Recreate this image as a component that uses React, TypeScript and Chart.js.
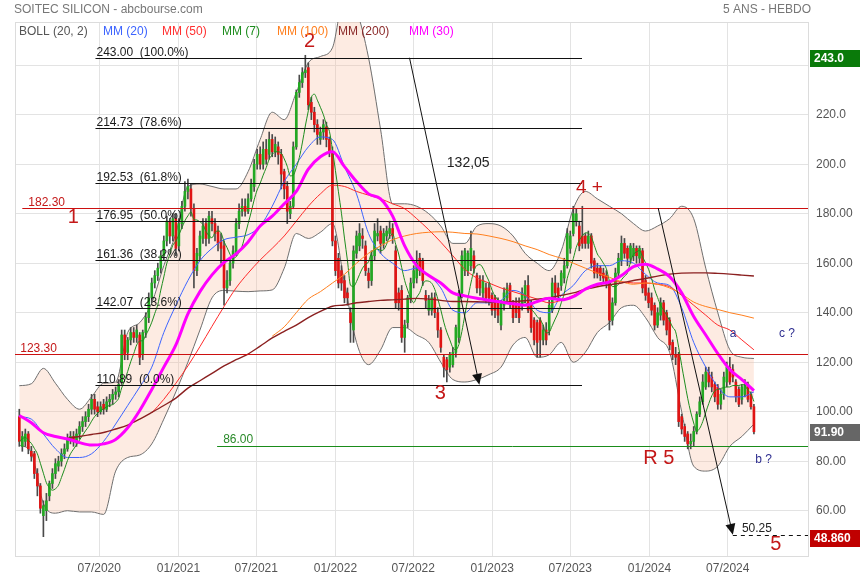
import React, { useEffect, useRef } from "react";
import { Chart, registerables } from "chart.js";

Chart.register(...registerables);

const FONT = "'Liberation Sans', Arial, Helvetica, sans-serif";

// x axis: week index (0 = first weekly candle)
const xTickWeeks = [26.56, 52.85, 78.7, 105.0, 130.85, 157.1, 183.0, 209.3, 235.3];
const xTickLabels = ["07/2020", "01/2021", "07/2021", "01/2022", "07/2022", "01/2023", "07/2023", "01/2024", "07/2024"];
const yTickValues = [60, 80, 100, 120, 140, 160, 180, 200, 220, 240];

const opens = [
  98, 86, 88, 91, 84, 83, 75, 70, 58, 60,
  66, 71, 75, 78, 80, 83, 85, 89, 90, 88,
  91, 94, 96, 98, 101, 105, 102, 100, 103, 101,
  104, 105, 107, 108, 112, 131, 124, 129, 132, 130,
  131, 123, 132, 138, 146, 152, 155, 158, 163, 169,
  177, 171, 178, 167, 176, 183, 189, 190, 182, 157,
  163, 170, 176, 170, 178, 176, 173, 169, 167, 150,
  153, 160, 164, 176, 181, 183, 181, 186, 191, 200,
  204, 200, 206, 204, 210, 205, 207, 204, 197, 191,
  180, 183, 207, 229, 233, 237, 239, 225, 221, 216,
  210, 213, 215, 210, 205, 169, 162, 157, 153, 148,
  140, 133, 164, 167, 171, 167, 156, 153, 163, 171,
  173, 168, 171, 172, 174, 165, 148, 149, 130, 136,
  146, 152, 154, 162, 161, 147, 141, 141, 146, 140,
  133, 122, 121, 118, 119, 124, 130, 148, 157, 157,
  159, 163, 155, 153, 148, 150, 150, 147, 146, 144,
  135, 143, 146, 151, 144, 144, 144, 143, 146, 151,
  144, 137, 136, 137, 129, 133, 133, 141, 152, 150,
  151, 154, 159, 166, 172, 177, 175, 171, 171, 168,
  171, 161, 158, 158, 156, 155, 152, 137, 144, 156,
  161, 168, 166, 162, 163, 166, 162, 165, 153, 148,
  146, 143, 135, 139, 144, 140, 137, 128, 123, 123,
  98, 94, 91, 87, 88, 92, 99, 104, 110, 116,
  114, 111, 110, 103, 107, 112, 118, 117, 112, 109,
  105, 107, 111, 107, 102,
];
const highs = [
  101, 92, 93, 92, 86, 84, 77, 71, 64, 67,
  72, 77, 81, 82, 85, 87, 91, 92, 92, 93,
  96, 98, 100, 103, 107, 107, 104, 104, 105, 106,
  107, 109, 110, 113, 133, 133, 130, 134, 134, 135,
  132, 133, 140, 148, 154, 157, 160, 165, 171, 179,
  178, 180, 180, 178, 185, 193, 194, 192, 184, 166,
  173, 178, 178, 181, 181, 178, 175, 172, 169, 157,
  162, 167, 178, 184, 186, 186, 188, 194, 202, 206,
  207, 209, 210, 213, 212, 211, 209, 206, 198, 193,
  185, 209, 230, 236, 239, 244, 241, 227, 223, 218,
  215, 218, 217, 211, 207, 171, 164, 159, 155, 150,
  142, 167, 173, 176, 174, 169, 158, 165, 176, 178,
  175, 174, 175, 177, 176, 167, 150, 151, 137, 147,
  154, 159, 165, 164, 162, 149, 147, 148, 148, 142,
  134, 123, 122, 124, 126, 135, 149, 165, 166, 165,
  173, 165, 156, 155, 155, 152, 152, 148, 147, 146,
  145, 150, 152, 152, 145, 146, 146, 150, 153, 155,
  145, 138, 137, 138, 135, 136, 145, 154, 155, 152,
  157, 162, 174, 173, 183, 182, 177, 183, 172, 173,
  172, 162, 160, 159, 158, 157, 153, 146, 158, 164,
  171, 170, 167, 168, 168, 167, 167, 166, 155, 150,
  148, 144, 142, 146, 145, 141, 138, 129, 126, 124,
  99, 95, 92, 91, 94, 100, 106, 115, 118, 118,
  116, 112, 111, 109, 116, 120, 122, 119, 113, 110,
  111, 113, 112, 108, 103,
];
const lows = [
  86, 84, 86, 83, 80, 73, 66, 59, 49.5, 56,
  64, 69, 73, 76, 78, 81, 84, 87, 86, 86,
  89, 92, 94, 96, 99, 99, 98, 99, 99, 100,
  102, 103, 105, 106, 111, 121, 121, 127, 128, 128,
  119, 121, 130, 136, 144, 150, 153, 156, 161, 167,
  168, 169, 163, 165, 174, 181, 186, 179, 150, 155,
  161, 168, 167, 168, 173, 169, 165, 160, 143, 148,
  151, 158, 163, 174, 179, 179, 180, 185, 189, 198,
  198, 198, 200, 202, 203, 203, 200, 190, 186, 176,
  178, 182, 206, 227, 231, 235, 222, 218, 213, 208,
  208, 210, 207, 203, 167, 155, 150, 149, 144, 143,
  128, 128, 162, 165, 166, 155, 150, 151, 161, 169,
  164, 166, 169, 170, 168, 142, 141, 128, 124, 134,
  144, 150, 152, 155, 151, 142, 139, 139, 138, 130,
  124, 114, 112, 116, 118, 122, 128, 146, 155, 155,
  157, 156, 148, 147, 146, 144, 143, 139, 138, 136,
  133, 141, 144, 142, 136, 138, 136, 141, 144, 140,
  132, 127, 122, 122, 127, 127, 131, 140, 146, 145,
  149, 152, 158, 164, 171, 175, 165, 166, 166, 166,
  158, 154, 154, 153, 152, 150, 133, 135, 143, 154,
  159, 162, 159, 160, 161, 160, 160, 148, 145, 142,
  139, 133, 134, 137, 135, 131, 125, 121, 119, 94,
  91, 88, 85, 85, 86, 91, 98, 103, 109, 110,
  108, 104, 101, 101, 105, 110, 111, 112, 104, 102,
  103, 106, 104, 101, 91,
];
const closes = [
  88, 90, 91, 85, 82, 75, 70, 61, 62, 64,
  71, 75, 79, 80, 83, 85, 89, 90, 88, 91,
  94, 96, 98, 101, 105, 101, 100, 102, 101, 104,
  105, 107, 108, 111, 131, 123, 129, 132, 130, 133,
  122, 132, 138, 146, 152, 155, 158, 163, 169, 177,
  171, 178, 166, 176, 183, 189, 191, 182, 157, 164,
  171, 175, 170, 179, 176, 172, 168, 166, 150, 153,
  160, 165, 176, 181, 183, 181, 186, 192, 200, 204,
  200, 206, 202, 210, 205, 208, 204, 196, 190, 181,
  183, 207, 229, 233, 237, 238, 224, 221, 216, 212,
  213, 216, 210, 205, 169, 157, 152, 152, 146, 146,
  136, 165, 171, 172, 170, 157, 153, 163, 173, 172,
  168, 172, 173, 174, 171, 144, 144, 130, 135, 146,
  152, 157, 160, 157, 153, 145, 145, 146, 140, 133,
  126, 118, 117, 123, 124, 134, 148, 163, 165, 164,
  166, 158, 150, 150, 153, 146, 146, 141, 141, 139,
  144, 148, 150, 144, 138, 140, 138, 148, 151, 141,
  134, 129, 128, 129, 133, 129, 143, 152, 148, 147,
  156, 159, 172, 171, 180, 180, 167, 168, 168, 171,
  160, 156, 156, 155, 154, 152, 137, 144, 156, 162,
  168, 164, 162, 167, 166, 163, 166, 150, 147, 144,
  141, 135, 140, 144, 137, 133, 127, 123, 122, 96,
  93, 90, 87, 88, 92, 99, 104, 112, 116, 112,
  110, 106, 103, 107, 114, 118, 112, 114, 106, 103,
  110, 111, 105, 102, 91.9,
];

// indicator curves read every 4 weeks (week 0, 4, 8, ... 244)
const indicatorWeeks = Array.from({ length: 62 }, (_, k) => k * 4);
const bollUpper = [
  110.5, 111.3, 117.5, 111.5, 105, 101, 106, 111.5, 112, 132,
  136, 144, 159, 172, 191, 192, 191, 190, 190, 197,
  210, 221, 218, 229, 241, 243.5, 247, 268, 262, 243,
  214, 184, 184, 183, 180, 175, 168, 168, 175, 176,
  175, 171, 164, 160, 157, 165, 182, 189, 186, 183,
  180, 176, 173, 175, 178, 183, 178, 158, 140, 125,
  122, 121.5,
];
const bollLower = [
  86.5, 83.5, 63, 59, 60, 59.5, 59.5, 58.5, 76, 81.5,
  82.5, 87, 97, 108, 120, 133, 146, 149, 148.7, 148.5,
  148.8, 149.2, 158, 172, 170, 172.5, 176, 152, 128, 119,
  125, 134, 134, 131, 128, 120, 113, 112, 113, 115,
  118, 127, 130, 122, 123, 128, 120, 124, 132, 136,
  142, 143, 138, 130, 124, 100, 78, 76, 78, 86,
  90, 95,
];
const ma20 = [
  98, 97, 91, 85, 81.5, 81.5, 83, 88, 95, 102.5,
  110, 118, 132, 143, 153, 161, 166, 169.5, 170.5, 171.5,
  175, 183, 193, 200, 207, 211, 210, 199, 188, 172,
  164, 160, 157, 158, 155, 150, 141, 140, 144, 144,
  145, 149, 147, 141, 140, 147, 151, 157, 159, 159,
  161, 160, 155.5, 152, 151, 142, 128, 118, 110, 106,
  106, 108,
];
const ma30 = [
  98.5, 95.5, 91.5, 90, 89, 87.5, 86.5, 87, 88.8, 93.5,
  100.5, 109, 118, 127, 139.5, 148.5, 155.3, 160.3, 163.8, 168.6,
  175, 179, 184, 189, 198, 203, 205, 199, 193, 188,
  186, 179, 167, 159, 155, 152, 148, 146.8, 145.8, 145,
  144.3, 143.6, 143, 144.5, 145.8, 145.2, 146.5, 149.5, 151.5, 152.4,
  155, 158.6, 159.6, 157.7, 154.6, 148, 138.5, 131, 123.5, 117,
  113, 108.5,
];
const ma50 = [
  null, null, null, null, null, null, null, null, null, null,
  null, 99.5, 105, 111.5, 118.5, 126.3, 134.5, 142.5, 150, 156,
  161.3, 166, 171, 177, 183, 188, 191.5, 191, 189, 187.5,
  186, 184, 182, 178, 173.5, 168.5, 163, 157.5, 154, 152,
  150, 148.5, 147, 145.5, 144, 145, 147, 149.5, 151, 152.5,
  152.5, 152, 152, 151.5, 150.5, 147, 143, 139, 135, 133,
  129, 125,
];
const ma100 = [
  null, null, null, null, null, null, null, null, null, null,
  null, null, null, null, null, null, null, null, null, null,
  null, 130.5, 134.3, 140, 145.5, 148.5, 152, 155.5, 160, 164,
  167, 169.5, 171, 172, 172.5, 172.7, 172.5, 172, 171.8, 171,
  170, 168.7, 167, 165.5, 163.5, 162, 160, 158, 156, 154.3,
  152.5, 151.5, 152, 151.5, 150, 147.5, 144.3, 142.5, 141.3, 140,
  139, 137.8,
];
const ma200 = [
  null, null, null, null, 89.3, 90, 90.8, 91.6, 93, 94.6,
  97, 99.7, 102.5, 105.5, 109.5, 112.5, 115.5, 118.5, 121, 123.3,
  126.5, 129.8, 132.5, 135, 138, 140.5, 142.6, 143.1, 144, 144.5,
  145, 145.2, 145.5, 145.8, 145.5, 145, 144.5, 144.5, 144.4, 144.3,
  144.3, 144.5, 144.8, 145.5, 146, 147, 148, 149.5, 150.5, 151.3,
  152, 153, 153.8, 154.8, 155.6, 156, 156.1, 156.1, 155.9, 155.6,
  155.2, 154.8,
];

const fibLevels = [243.0, 214.73, 192.53, 176.95, 161.36, 142.07, 110.89];
const fibLabels = [
  "243.00  (100.0%)", "214.73  (78.6%)", "192.53  (61.8%)", "176.95  (50.0%)",
  "161.36  (38.2%)", "142.07  (23.6%)", "110.89  (0.0%)",
];
const fibStartWeek = 25.3;
const fibEndWeek = 186.9;

const GREEN = "#23a823";
const RED = "#e01414";
const DARKRED_TXT = "#c41818";
const NAVY = "#2e2e90";

const weeks = closes.map((_, i) => i);
const ma7 = weeks.map((i) => {
  const from = Math.max(0, i - 6);
  let s = 0;
  for (let k = from; k <= i; k++) s += closes[k];
  return s / (i - from + 1);
});

const legendItems = [
  { text: "BOLL (20, 2)", x: 19, color: "#555555" },
  { text: "MM (20)", x: 103, color: "#3c64ff" },
  { text: "MM (50)", x: 162, color: "#ff3030" },
  { text: "MM (7)", x: 222, color: "#1e8c1e" },
  { text: "MM (100)", x: 277, color: "#ff7f1e" },
  { text: "MM (200)", x: 338, color: "#8b2a2a" },
  { text: "MM (30)", x: 409, color: "#ff00ff" },
];

function lineDs(label: string, arr: (number | null)[], color: string, width: number, order: number, extra: any = {}) {
  return {
    type: "line",
    label,
    data: indicatorWeeks.map((w, k) => ({ x: w, y: arr[k] })),
    borderColor: color,
    borderWidth: width,
    pointRadius: 0,
    cubicInterpolationMode: "monotone",
    fill: false,
    spanGaps: false,
    order,
    ...extra,
  };
}

const overlayPlugin = {
  id: "overlay",
  beforeDatasetsDraw(chart: any) {
    const { ctx, chartArea } = chart;
    ctx.save();
    ctx.strokeStyle = "#dcdcdc";
    ctx.lineWidth = 1;
    ctx.strokeRect(Math.round(chartArea.left) + 0.5, Math.round(chartArea.top) + 0.5,
      Math.round(chartArea.right - chartArea.left), Math.round(chartArea.bottom - chartArea.top));
    ctx.restore();
  },
  afterDatasetsDraw(chart: any) {
    const { ctx, chartArea } = chart;
    const X = (v: number) => chart.scales.x.getPixelForValue(v);
    const Y = (v: number) => chart.scales.y.getPixelForValue(v);
    const hline = (y: number, x1: number, x2: number, color: string, dash: number[] = []) => {
      ctx.save();
      ctx.strokeStyle = color;
      ctx.lineWidth = 1;
      ctx.setLineDash(dash);
      const yy = Math.round(y) + 0.5;
      ctx.beginPath();
      ctx.moveTo(x1, yy);
      ctx.lineTo(x2, yy);
      ctx.stroke();
      ctx.restore();
    };
    const text = (t: string, x: number, y: number, color: string, size: number, align = "left", baseline = "alphabetic") => {
      ctx.save();
      ctx.fillStyle = color;
      ctx.font = `${size}px ${FONT}`;
      ctx.textAlign = align;
      ctx.textBaseline = baseline;
      ctx.fillText(t, x, y);
      ctx.restore();
    };
    const arrow = (w1: number, v1: number, w2: number, v2: number) => {
      const x1 = X(w1), y1 = Y(v1), x2 = X(w2), y2 = Y(v2);
      const ang = Math.atan2(y2 - y1, x2 - x1);
      const len = 11, half = 5;
      ctx.save();
      ctx.strokeStyle = "#111";
      ctx.fillStyle = "#111";
      ctx.lineWidth = 1;
      ctx.beginPath();
      ctx.moveTo(x1, y1);
      ctx.lineTo(x2 - Math.cos(ang) * len * 0.8, y2 - Math.sin(ang) * len * 0.8);
      ctx.stroke();
      ctx.beginPath();
      ctx.moveTo(x2, y2);
      ctx.lineTo(x2 - Math.cos(ang) * len - Math.sin(ang) * half, y2 - Math.sin(ang) * len + Math.cos(ang) * half);
      ctx.lineTo(x2 - Math.cos(ang) * len + Math.sin(ang) * half, y2 - Math.sin(ang) * len - Math.cos(ang) * half);
      ctx.closePath();
      ctx.fill();
      ctx.restore();
    };

    // Fibonacci retracement levels
    fibLevels.forEach((lv, k) => {
      const y = Y(lv);
      hline(y, X(fibStartWeek), X(fibEndWeek), "#111");
      text(fibLabels[k], X(fibStartWeek) + 1, Math.round(y) - 2, "#1a1a1a", 12);
    });

    // horizontal support / resistance lines
    hline(Y(182.3), X(1.0), chartArea.right, "#cc1010");
    text("182.30", X(3.0), Math.round(Y(182.3)) - 2, DARKRED_TXT, 12);
    text("1", X(17.9), Y(178.6), DARKRED_TXT, 20, "center", "middle");
    hline(Y(123.3), chartArea.left, chartArea.right, "#cc1010");
    text("123.30", X(0.3), Math.round(Y(123.3)) - 2, DARKRED_TXT, 12);
    hline(Y(86), X(65.7), chartArea.right, "#1a8c1a");
    text("86.00", X(67.7), Math.round(Y(86)) - 3, "#2a8a2a", 12);

    // projection arrows
    arrow(129.6, 243.0, 152.8, 110.89);
    text("132,05", X(142.0), Y(200.4), "#222", 14, "left", "middle");
    arrow(212.2, 182.3, 237.0, 50.25);
    hline(Y(50.25), X(237.0), chartArea.right, "#111", [4, 4]);
    text("50.25", X(240.0), Y(51.2), "#222", 12);

    // wave labels
    text("2", X(96.4), Y(249.6), DARKRED_TXT, 20, "center", "middle");
    text("3", X(139.8), Y(107.2), DARKRED_TXT, 20, "center", "middle");
    text("4 +", X(184.9), Y(190.4), DARKRED_TXT, 19, "left", "middle");
    text("R 5", X(207.2), Y(80.9), DARKRED_TXT, 20, "left", "middle");
    text("5", X(251.3), Y(46.5), DARKRED_TXT, 20, "center", "middle");
    text("a", X(237.1), Y(131.4), NAVY, 12, "center", "middle");
    text("c ?", X(252.3), Y(131.4), NAVY, 12, "left", "middle");
    text("b ?", X(244.4), Y(80.5), NAVY, 12, "left", "middle");
  },
  afterDraw(chart: any) {
    const { ctx, chartArea } = chart;
    const Y = (v: number) => chart.scales.y.getPixelForValue(v);
    ctx.save();
    // header
    ctx.font = `12px ${FONT}`;
    ctx.fillStyle = "#777";
    ctx.textBaseline = "alphabetic";
    ctx.textAlign = "left";
    ctx.fillText("SOITEC SILICON - abcbourse.com", 14, 13);
    ctx.textAlign = "right";
    ctx.fillText("5 ANS - HEBDO", 811, 13);
    // legend
    ctx.textAlign = "left";
    legendItems.forEach((it) => {
      ctx.fillStyle = it.color;
      ctx.fillText(it.text, it.x, 35);
    });
    // value boxes on the price axis
    const boxes = [
      { v: 243.0, t: "243.0", bg: "#0a7a0a" },
      { v: 91.9, t: "91.90", bg: "#666666" },
      { v: 48.86, t: "48.860", bg: "#c00000" },
    ];
    boxes.forEach((b) => {
      const y = Math.round(Y(b.v));
      ctx.fillStyle = b.bg;
      ctx.fillRect(chartArea.right + 2, y - 8, 860 - chartArea.right - 2, 17);
      ctx.fillStyle = "#fff";
      ctx.font = `bold 12px ${FONT}`;
      ctx.textBaseline = "middle";
      ctx.fillText(b.t, chartArea.right + 6, y + 1);
    });
    ctx.restore();
  },
};

export default function App() {
  const ref = useRef<HTMLCanvasElement>(null);
  useEffect(() => {
    const datasets: any[] = [
      lineDs("BOLL up", bollUpper, "#6e6e6e", 1, 20, { fill: "+1", backgroundColor: "rgba(248,190,160,0.30)" }),
      lineDs("BOLL low", bollLower, "#6e6e6e", 1, 19),
      {
        type: "bar",
        label: "wicks",
        data: weeks.map((i) => ({ x: i, y: [lows[i], highs[i]] })),
        backgroundColor: "#4a4a4a",
        barThickness: 1,
        grouped: false,
        order: 15,
      },
      {
        type: "bar",
        label: "bodies",
        data: weeks.map((i) => ({ x: i, y: [opens[i], closes[i]] })),
        backgroundColor: weeks.map((i) => (closes[i] >= opens[i] ? GREEN : RED)),
        barThickness: 2,
        minBarLength: 1,
        grouped: false,
        order: 14,
      },
      lineDs("MM (20)", ma20, "#3c64ff", 1, 7),
      lineDs("MM (50)", ma50, "#ff2a2a", 1, 6),
      {
        type: "line",
        label: "MM (7)",
        data: weeks.map((i) => ({ x: i, y: ma7[i] })),
        borderColor: "#1e8c1e",
        borderWidth: 1,
        pointRadius: 0,
        cubicInterpolationMode: "monotone",
        fill: false,
        order: 5,
      },
      lineDs("MM (100)", ma100, "#ff7f1e", 1, 4),
      lineDs("MM (200)", ma200, "#8b2020", 1.4, 3),
      lineDs("MM (30)", ma30, "#ff00ff", 3, 2),
    ];

    const chart = new Chart(ref.current as HTMLCanvasElement, {
      type: "bar",
      data: { datasets },
      options: {
        responsive: false,
        animation: false,
        devicePixelRatio: 1,
        events: [],
        layout: { padding: { left: 15, top: 22, right: 0, bottom: 0 } },
        plugins: {
          legend: { display: false },
          tooltip: { enabled: false },
          title: { display: false },
        },
        scales: {
          x: {
            type: "linear",
            min: -1.43,
            max: 261.96,
            offset: false,
            grid: { color: "#e3e3e3", drawTicks: false, offset: false },
            border: { color: "#d8d8d8" },
            ticks: {
              autoSkip: false,
              maxRotation: 0,
              padding: 5,
              color: "#555",
              font: { family: FONT, size: 12 },
              callback: (_v: any, idx: number) => xTickLabels[idx] ?? "",
            },
            afterBuildTicks: (s: any) => {
              s.ticks = xTickWeeks.map((value) => ({ value }));
            },
            afterFit: (s: any) => {
              s.height = 24;
            },
          },
          y: {
            type: "linear",
            position: "right",
            min: 41.7,
            max: 257.45,
            grid: { color: "#e3e3e3", drawTicks: false },
            border: { color: "#d8d8d8" },
            ticks: {
              padding: 8,
              color: "#555",
              font: { family: FONT, size: 12 },
              callback: (v: any) => (v === 240 ? "" : v >= 200 ? Number(v).toFixed(1) : Number(v).toFixed(2)),
            },
            afterBuildTicks: (s: any) => {
              s.ticks = yTickValues.map((value) => ({ value }));
            },
            afterFit: (s: any) => {
              s.width = 52;
            },
          },
        },
      } as any,
      plugins: [overlayPlugin as any],
    });
    return () => chart.destroy();
  }, []);

  return (
    <div style={{ position: "absolute", left: 0, top: 0, width: 860, height: 580, background: "#fff" }}>
      <canvas ref={ref} width={860} height={580} style={{ display: "block", width: 860, height: 580 }} />
    </div>
  );
}
